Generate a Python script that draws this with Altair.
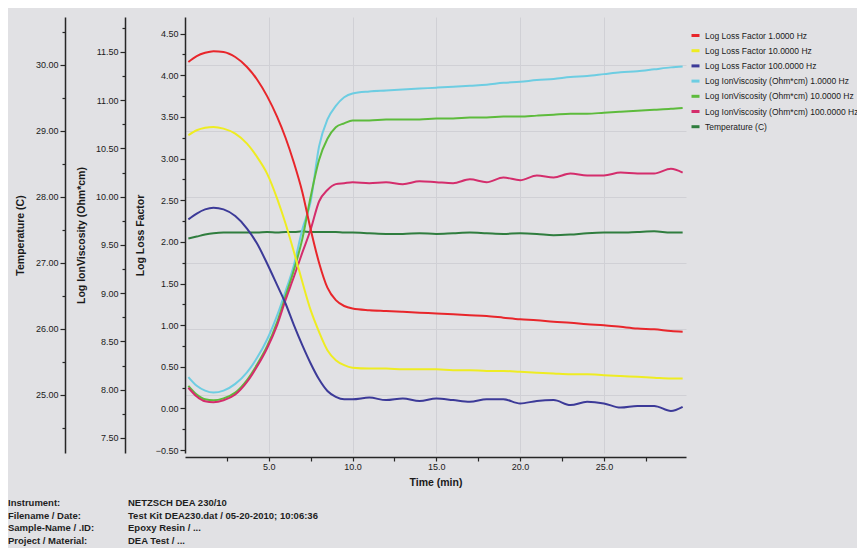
import altair as alt
import pandas as pd

# ---------------- data ----------------
time_min = [0.2, 0.7, 1.2, 1.7, 2.3, 3.0, 3.7, 4.3, 4.9, 5.5, 6.0, 6.5, 7.0, 7.5, 8.0, 8.5, 9.0, 9.5, 10.0,
            11, 12, 13, 14, 15, 16, 17, 18, 19, 20, 21, 22, 23, 24, 25, 26, 27, 28, 29, 29.7]

loss_1hz = [4.16, 4.23, 4.27, 4.29, 4.28, 4.22, 4.10, 3.95, 3.75, 3.50, 3.25, 2.95, 2.60, 2.15, 1.75, 1.45, 1.30, 1.23, 1.20,
            1.18, 1.17, 1.16, 1.15, 1.14, 1.13, 1.12, 1.11, 1.09, 1.07, 1.06, 1.04, 1.03, 1.01, 1.00, 0.98, 0.96, 0.95, 0.93, 0.92]
loss_10hz = [3.28, 3.34, 3.37, 3.38, 3.36, 3.30, 3.18, 3.02, 2.82, 2.52, 2.22, 1.88, 1.52, 1.18, 0.92, 0.70, 0.58, 0.52, 0.49,
             0.48, 0.48, 0.47, 0.47, 0.47, 0.46, 0.46, 0.45, 0.45, 0.44, 0.43, 0.42, 0.41, 0.41, 0.40, 0.39, 0.38, 0.37, 0.36, 0.36]
loss_100hz = [2.27, 2.34, 2.39, 2.41, 2.39, 2.31, 2.16, 1.98, 1.74, 1.48, 1.26, 1.00, 0.76, 0.54, 0.35, 0.21, 0.14, 0.11, 0.11,
              0.13, 0.10, 0.12, 0.09, 0.12, 0.10, 0.08, 0.11, 0.11, 0.06, 0.09, 0.10, 0.04, 0.08, 0.06, 0.01, 0.03, 0.03, -0.03, 0.02]
ion_1hz = [8.13, 8.04, 7.99, 7.97, 7.99, 8.06, 8.18, 8.33, 8.52, 8.77, 9.02, 9.29, 9.66, 9.95, 10.52, 10.80, 10.94, 11.03, 11.07,
           11.09, 11.10, 11.11, 11.12, 11.13, 11.14, 11.15, 11.16, 11.18, 11.19, 11.21, 11.22, 11.24, 11.25, 11.27, 11.29, 11.30, 11.32, 11.34, 11.35]
ion_10hz = [8.04, 7.95, 7.90, 7.89, 7.91, 7.97, 8.10, 8.26, 8.45, 8.70, 8.97, 9.24, 9.56, 10.00, 10.38, 10.60, 10.72, 10.76, 10.79,
            10.79, 10.80, 10.80, 10.80, 10.81, 10.81, 10.82, 10.82, 10.83, 10.83, 10.84, 10.85, 10.86, 10.86, 10.87, 10.88, 10.89, 10.90, 10.91, 10.92]
ion_100hz = [8.02, 7.93, 7.88, 7.87, 7.89, 7.95, 8.08, 8.24, 8.43, 8.67, 8.93, 9.17, 9.42, 9.66, 9.95, 10.07, 10.13, 10.14, 10.15,
             10.14, 10.15, 10.13, 10.16, 10.15, 10.14, 10.18, 10.15, 10.20, 10.17, 10.22, 10.20, 10.24, 10.22, 10.22, 10.25, 10.24, 10.24, 10.29, 10.25]
temperature = [27.37, 27.40, 27.43, 27.45, 27.46, 27.46, 27.46, 27.46, 27.47, 27.46, 27.47, 27.47, 27.48, 27.47, 27.47, 27.47, 27.47, 27.46, 27.46,
               27.45, 27.44, 27.44, 27.45, 27.44, 27.45, 27.46, 27.45, 27.44, 27.45, 27.44, 27.42, 27.43, 27.45, 27.46, 27.46, 27.47, 27.48, 27.46, 27.46]

series_names = ["Log Loss Factor 1.0000 Hz", "Log Loss Factor 10.0000 Hz", "Log Loss Factor 100.0000 Hz",
                "Log IonViscosity (Ohm*cm) 1.0000 Hz", "Log IonViscosity (Ohm*cm) 10.0000 Hz",
                "Log IonViscosity (Ohm*cm) 100.0000 Hz", "Temperature (C)"]
series_colors = ["#e8262b", "#eeec22", "#3c3a98", "#6dcde2", "#5dbb3c", "#d42d6c", "#2f7d3e"]

info_labels = ["Instrument:", "Filename / Date:", "Sample-Name / .ID:", "Project / Material:"]
info_values = ["NETZSCH DEA 230/10", "Test Kit DEA230.dat / 05-20-2010; 10:06:36", "Epoxy Resin / ...", "DEA Test / ..."]

x_ticks = [2.5, 5, 7.5, 10, 12.5, 15, 17.5, 20, 22.5, 25, 27.5]
loss_ticks = [-0.5, -0.25, 0, 0.25, 0.5, 0.75, 1, 1.25, 1.5, 1.75, 2, 2.25, 2.5, 2.75, 3, 3.25, 3.5, 3.75, 4, 4.25, 4.5]
ion_ticks = [7.5, 7.75, 8, 8.25, 8.5, 8.75, 9, 9.25, 9.5, 9.75, 10, 10.25, 10.5, 10.75, 11, 11.25, 11.5, 11.75]
temp_ticks = [24.5, 25, 25.5, 26, 26.5, 27, 27.5, 28, 28.5, 29, 29.5, 30, 30.5]

# ---------------- build tables ----------------
all_series = [loss_1hz, loss_10hz, loss_100hz, ion_1hz, ion_10hz, ion_100hz, temperature]
rows = []
for name, vals in zip(series_names, all_series):
    for t, v in zip(time_min, vals):
        rows.append({"time": t, "series": name, "value": v})
df = pd.DataFrame(rows)

FONT = "Liberation Sans"
INK = "#262626"

color = alt.Color(
    "series:N",
    scale=alt.Scale(domain=series_names, range=series_colors),
    legend=alt.Legend(
        title=None, orient="none", legendX=505, legendY=13, padding=0,
        symbolType="stroke", symbolStrokeWidth=3, symbolSize=64,
        labelFont=FONT, labelFontSize=8.5, labelColor="#1a1a1a", labelOffset=4,
        rowPadding=2.2, labelLimit=300,
    ),
)

x_enc = alt.X(
    "time:Q",
    scale=alt.Scale(domain=[0, 29.9], nice=False, zero=False),
    axis=alt.Axis(
        title="Time (min)", values=x_ticks, offset=4,
        labelExpr="datum.value % 5 == 0 ? format(datum.value, '.1f') : ''",
        tickSize=4, labelPadding=1, titlePadding=6,
        grid=True, gridColor="#d0d0d5",
        gridOpacity={"condition": {"test": "datum.value % 5 == 0", "value": 1}, "value": 0},
    ),
)


def yaxis(title, ticks, major, fmt, offset, tpad, grid=False):
    return alt.Axis(
        orient="left", offset=offset, title=title, values=ticks,
        labelExpr=f"datum.value % {major} == 0 ? format(datum.value, '{fmt}') : ''",
        tickSize={"condition": {"test": f"datum.value % {major} == 0", "value": 5}, "value": 3},
        labelPadding=2, titlePadding=tpad,
        grid=grid, gridColor="#d0d0d5",
        gridOpacity={"condition": {"test": f"datum.value % {major} == 0", "value": 1}, "value": 0},
    )


line = dict(strokeWidth=2, interpolate="monotone")

loss_layer = alt.Chart(df).transform_filter(
    alt.FieldOneOfPredicate(field="series", oneOf=series_names[:3])
).mark_line(**line).encode(
    x=x_enc,
    y=alt.Y("value:Q", scale=alt.Scale(domain=[-0.535, 4.70], nice=False, zero=False),
            axis=yaxis("Log Loss Factor", loss_ticks, 0.5, ".2f", 0, 10)),
    color=color,
)

ion_layer = alt.Chart(df).transform_filter(
    alt.FieldOneOfPredicate(field="series", oneOf=series_names[3:6])
).mark_line(**line).encode(
    x=x_enc,
    y=alt.Y("value:Q", scale=alt.Scale(domain=[7.344, 11.862], nice=False, zero=False),
            axis=yaxis("Log IonViscosity (Ohm*cm)", ion_ticks, 0.5, ".2f", 60, 9)),
    color=color,
)

temp_layer = alt.Chart(df).transform_filter(
    alt.FieldEqualPredicate(field="series", equal=series_names[6])
).mark_line(**line).encode(
    x=x_enc,
    y=alt.Y("value:Q", scale=alt.Scale(domain=[24.121, 30.727], nice=False, zero=False),
            axis=yaxis("Temperature (C)", temp_ticks, 1, ".2f", 120, 10, grid=True)),
    color=color,
)

info_df = pd.DataFrame({"labels": ["\n".join(info_labels)], "values": ["\n".join(info_values)]})
info_left = alt.Chart(info_df).mark_text(
    align="left", baseline="middle", lineBreak="\n", lineHeight=12.6,
    font=FONT, fontSize=9.5, fontWeight="bold", color="#1e1e1e",
).encode(text="labels:N", x=alt.value(-177), y=alt.value(486))
info_right = alt.Chart(info_df).mark_text(
    align="left", baseline="middle", lineBreak="\n", lineHeight=12.6,
    font=FONT, fontSize=9.5, fontWeight="bold", color="#1e1e1e",
).encode(text="values:N", x=alt.value(-57), y=alt.value(486))

chart = alt.layer(
    temp_layer, ion_layer, loss_layer, info_left, info_right
).resolve_scale(
    y="independent"
).properties(
    width=501, height=436,
    background="#e1e1e4",
    padding={"left": 177, "top": 9, "right": 171, "bottom": 100},
    autosize=alt.AutoSizeParams(type="none"),
).configure_view(
    strokeWidth=0
).configure_axis(
    labelFont=FONT, labelFontSize=9, labelColor="#1a1a1a",
    titleFont=FONT, titleFontSize=10.5, titleFontWeight="bold", titleColor="#1a1a1a",
    domainColor=INK, domainWidth=1.5, tickColor=INK, tickWidth=1.2,
)

chart.save("out.html", embed_options={"renderer": "svg", "actions": False})
